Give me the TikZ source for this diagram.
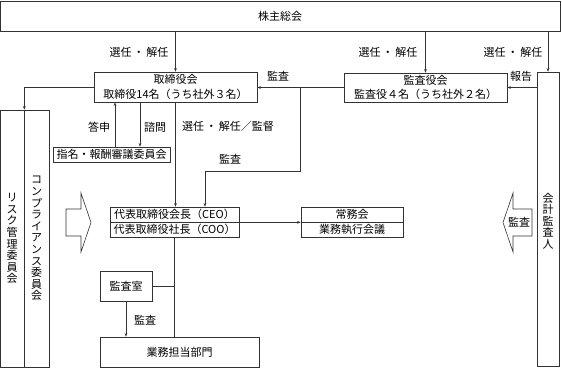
\documentclass[tikz,border=0pt]{standalone}
\usepackage{fontspec}
\setmainfont{Noto Sans CJK JP}
\usetikzlibrary{arrows.meta,positioning,calc}

\begin{document}
\begin{tikzpicture}[x=1pt,y=-1pt,
    blk/.style={rectangle,draw=black!80,inner sep=0pt,align=center,font=\fontsize{11}{14.5}\selectfont,line width=0.6pt},
    vblk/.style={blk,font=\fontsize{11}{11.6}\selectfont},
    lbl/.style={inner sep=0pt,font=\fontsize{11}{12}\selectfont},
    arr/.style={-{Stealth[length=1.3mm]},draw=black!80,line width=0.6pt},
]
\useasboundingbox (0,0) rectangle (562,368);

\node[blk,minimum width=560pt,minimum height=30pt] (share) at (280,16) {株主総会};
\node[blk,minimum width=163pt,minimum height=30pt] (board) at (175.5,87) {取締役会\\取締役14名（うち社外３名）};
\node[blk,minimum width=163pt,minimum height=29pt] (kansa) at (425.5,87.5) {監査役会\\監査役４名（うち社外２名）};
\node[blk,minimum width=22pt,minimum height=294pt] (auditor) at (548,219) {};
\node[vblk,draw=none] (audtxt) at (548,221) {会\\計\\監\\査\\人};
\node[blk,minimum width=117pt,minimum height=15pt] (nomi) at (111.5,154.5) {指名・報酬審議委員会};
\node[vblk,minimum width=24pt,minimum height=257pt] (risk) at (12,238.5) {リ\\ス\\ク\\管\\理\\委\\員\\会};
\node[vblk,minimum width=25pt,minimum height=257pt] (comp) at (36.5,238.5) {コ\\ン\\プ\\ラ\\イ\\ア\\ン\\ス\\委\\員\\会};

\node[blk,minimum width=129pt,minimum height=15pt] (ceo) at (174.5,214.5) {代表取締役会長（CEO）};
\node[blk,minimum width=129pt,minimum height=15pt] (coo) at (174.5,229.5) {代表取締役社長（COO）};
\node[blk,minimum width=102pt,minimum height=15pt] (jomu) at (352,214.5) {常務会};
\node[blk,minimum width=102pt,minimum height=15pt] (shikko) at (352,229.5) {業務執行会議};
\node[blk,minimum width=52pt,minimum height=30pt] (room) at (126,286) {監査室};
\node[blk,minimum width=159pt,minimum height=30pt] (dept) at (179.5,352) {業務担当部門};

% hollow arrows
\draw[draw=black!80,line width=0.6pt] (66,209) -- (81,209) -- (81,193) -- (91,222.5) -- (81,252) -- (81,236) -- (66,236) -- cycle;
\draw[draw=black!80,line width=0.6pt] (532,209) -- (513,209) -- (513,193) -- (503,222.5) -- (513,252) -- (513,236) -- (532,236) -- cycle;
\node[lbl] (hkansa) at (519,222.5) {監査};

\draw[arr] (share.south -| board.north) -- (board.north);
\draw[arr] (share.south -| kansa.north) -- (kansa.north);
\draw[arr] (share.south -| auditor.north) -- (auditor.north);
\draw[arr] (kansa.west) -- (kansa.west -| board.east);
\draw[arr] (auditor.west |- kansa.east) -- (kansa.east);
\draw[arr] (board.west) -| (risk.north east);
\draw[arr] ([xshift=3.5pt]nomi.north) -- ([xshift=3.5pt]nomi.north |- board.south);
\draw[arr] ([xshift=28.5pt]nomi.north |- board.south) -- ([xshift=28.5pt]nomi.north);
\draw[arr] (board.south) -- (board.south |- ceo.north);
\coordinate (kturn) at (300,171);
\draw[arr] (kturn |- kansa.west) -- (kturn) -| ([xshift=30.5pt]ceo.north);
\draw[arr] (ceo.south east) -- (jomu.south west);
\draw[draw=black!80,line width=0.6pt] (coo.south) -- (coo.south |- dept.north);
\draw[draw=black!80,line width=0.6pt] (room.east) -- (room.east -| coo.south);
\draw[arr] (room.south) -- (room.south |- dept.north);

\node[lbl] (sn1) at (139,52) {選任\,・\,解任};
\node[lbl] (sn2) at (388,52) {選任\,・\,解任};
\node[lbl] (sn3) at (513,52) {選任\,・\,解任};
\node[lbl] (kb) at (278,76) {監査};
\node[lbl] (hk) at (521,76) {報告};
\node[lbl] (ts) at (99,127) {答申};
\node[lbl] (sm) at (155,127) {諮問};
\node[lbl] (ks) at (228,126) {選任\,・\,解任／監督};
\node[lbl] (kc) at (230,159) {監査};
\node[lbl] (kd) at (145,320) {監査};
\end{tikzpicture}
\end{document}
